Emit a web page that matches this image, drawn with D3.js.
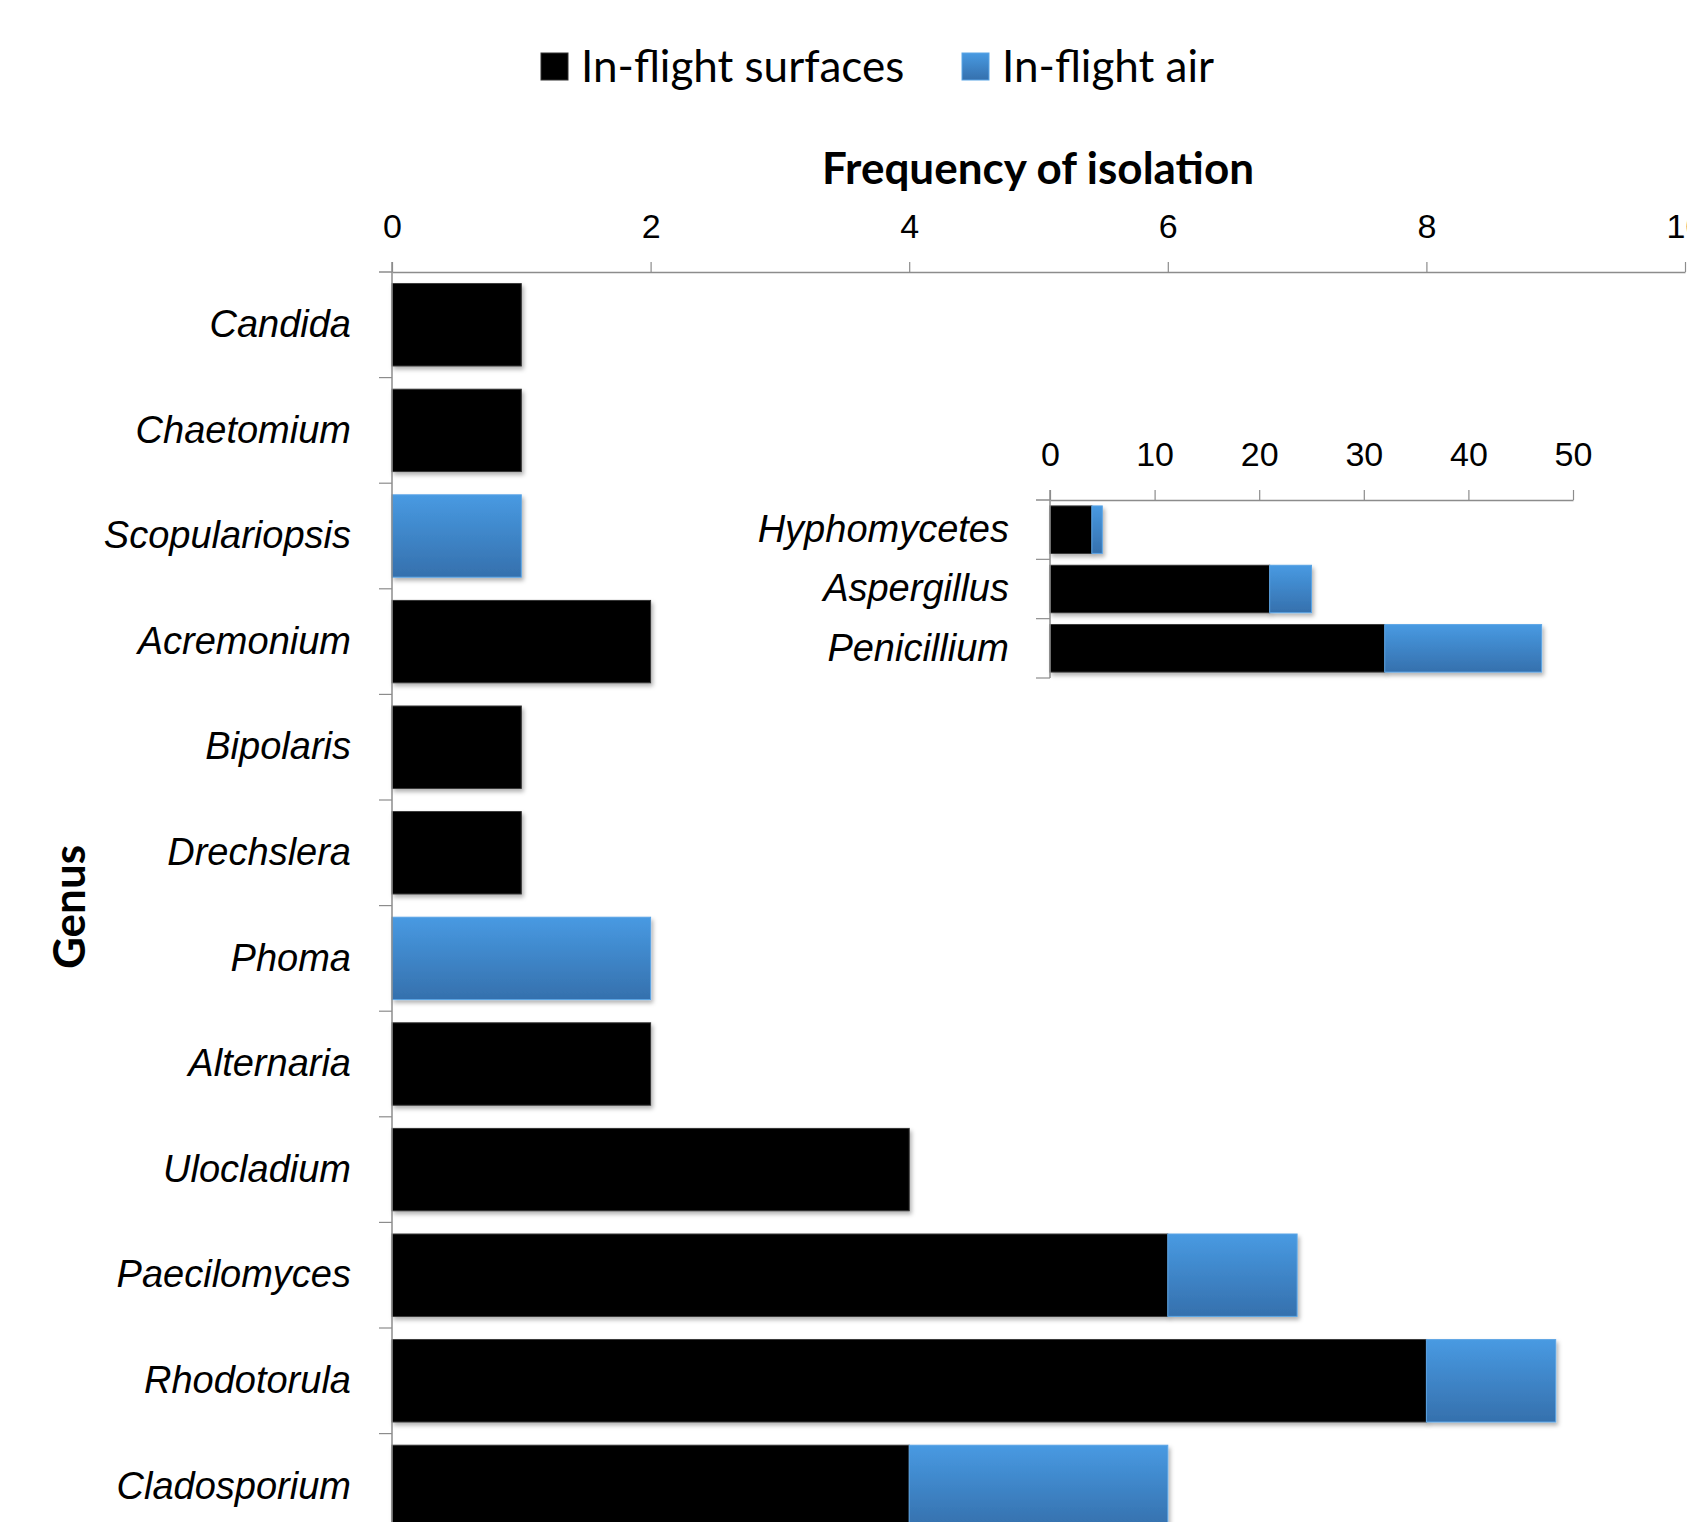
<!DOCTYPE html>
<html>
<head>
<meta charset="utf-8">
<script src="https://cdn.jsdelivr.net/npm/d3@7"></script>
<style>
  html, body { margin: 0; padding: 0; background: #fff; }
  svg { display: block; font-family: Lato, "Open Sans", sans-serif; }
</style>
</head>
<body>
<svg id="chart" width="1687" height="1522"></svg>
<script>
// Genera isolated, top to bottom
const genera = ["Candida", "Chaetomium", "Scopulariopsis", "Acremonium", "Bipolaris",
  "Drechslera", "Phoma", "Alternaria", "Ulocladium", "Paecilomyces", "Rhodotorula", "Cladosporium"];
const surfaceCounts = [1, 1, 0, 2, 1, 1, 0, 2, 4, 6, 8, 4];
const airCounts     = [0, 0, 1, 0, 0, 0, 2, 0, 0, 1, 1, 2];
const mainTicks = [0, 2, 4, 6, 8, 10];

// Most frequent genera, drawn on their own smaller scale
const majorGenera = ["Hyphomycetes", "Aspergillus", "Penicillium"];
const majorSurface = [4, 21, 32];
const majorAir     = [1, 4, 15];
const insetTicks = [0, 10, 20, 30, 40, 50];

const seriesKeys = ["surfaces", "air"];
const seriesNames = ["In-flight surfaces", "In-flight air"];

const svg = d3.select("#chart");
const axisColor = "#8c8c8c";

// Defs: blue gradient and soft bar shadow
const defs = svg.append("defs");
const grad = defs.append("linearGradient").attr("id", "blueGrad")
  .attr("x1", 0).attr("y1", 0).attr("x2", 0).attr("y2", 1);
grad.append("stop").attr("offset", "0%").attr("stop-color", "#489ae2");
grad.append("stop").attr("offset", "100%").attr("stop-color", "#3570ad");
const shadow = defs.append("filter").attr("id", "barShadow")
  .attr("x", "-5%").attr("y", "-10%").attr("width", "115%").attr("height", "140%");
shadow.append("feDropShadow").attr("dx", 2).attr("dy", 3).attr("stdDeviation", 2)
  .attr("flood-color", "#000").attr("flood-opacity", 0.3);

const fills = { surfaces: "#000000", air: "url(#blueGrad)" };
const strokes = { surfaces: "#333333", air: "#5aa5e6" };

function stackRows(names, a, b) {
  const rows = names.map((n, i) => ({ name: n, surfaces: a[i], air: b[i] }));
  return d3.stack().keys(seriesKeys)(rows);
}

function drawBars(g, stacked, x, y) {
  g.selectAll("g.series").data(stacked).join("g")
    .attr("class", "series")
    .attr("fill", d => fills[d.key])
    .attr("stroke", d => strokes[d.key])
    .attr("stroke-width", 1)
    .attr("filter", "url(#barShadow)")
    .selectAll("rect")
    .data(d => d.filter(s => s[1] - s[0] > 0))
    .join("rect")
    .attr("x", d => x(d[0]))
    .attr("width", d => x(d[1]) - x(d[0]))
    .attr("y", d => y(d.data.name))
    .attr("height", y.bandwidth());
}

function styleAxis(g) {
  g.selectAll("path.domain").attr("stroke", axisColor).attr("stroke-width", 1.5);
  g.selectAll(".tick line").attr("stroke", axisColor).attr("stroke-width", 1.2);
  g.selectAll(".tick text").attr("fill", "#000");
}

// ---------- main chart ----------
const x = d3.scaleLinear().domain([0, 10]).range([392, 1685]);
const step = 105.6;
const y = d3.scaleBand().domain(genera)
  .range([272, 272 + genera.length * step])
  .paddingInner(0.22).paddingOuter(0.11);

drawBars(svg.append("g"), stackRows(genera, surfaceCounts, airCounts), x, y);

const xAxisG = svg.append("g").attr("transform", "translate(0,272)")
  .call(d3.axisTop(x).tickValues(mainTicks).tickSize(10).tickSizeOuter(0).tickPadding(24));
styleAxis(xAxisG);
xAxisG.selectAll(".tick text").attr("font-size", 34);
xAxisG.append("line").attr("x1", 379).attr("x2", 392).attr("stroke", axisColor).attr("stroke-width", 1.5);

// vertical axis with category separators
const yAxisG = svg.append("g").attr("transform", "translate(392,0)")
  .call(d3.axisLeft(y).tickSize(0).tickPadding(41));
yAxisG.select("path.domain").remove();
yAxisG.selectAll(".tick text").attr("font-size", 38).attr("font-style", "italic").attr("fill", "#000");
yAxisG.append("line").attr("y1", 262).attr("y2", 1522).attr("stroke", axisColor).attr("stroke-width", 1.5);
yAxisG.selectAll("line.sep").data(d3.range(1, genera.length + 1)).join("line")
  .attr("class", "sep")
  .attr("x1", -13).attr("x2", 0)
  .attr("y1", i => y.range()[0] + i * y.step()).attr("y2", i => y.range()[0] + i * y.step())
  .attr("stroke", axisColor).attr("stroke-width", 1.2);

// axis titles
svg.append("text").attr("x", 1038).attr("y", 184).attr("text-anchor", "middle")
  .attr("font-weight", "bold").attr("font-size", 44).text("Frequency of isolation");
svg.append("text").attr("transform", "translate(85,907) rotate(-90)").attr("text-anchor", "middle")
  .attr("font-weight", "bold").attr("font-size", 44).text("Genus");

// ---------- legend ----------
const legendX = [541, 962];
const legend = svg.append("g").selectAll("g").data(seriesKeys).join("g")
  .attr("transform", (d, i) => `translate(${legendX[i]},53)`);
legend.append("rect").attr("width", 27).attr("height", 27)
  .attr("fill", d => fills[d]).attr("stroke", d => strokes[d]).attr("stroke-width", 1);
legend.append("text").attr("x", 40).attr("y", 29).attr("font-size", 44)
  .text((d, i) => seriesNames[i]);

// ---------- inset: most frequent genera ----------
const xi = d3.scaleLinear().domain([0, 50]).range([1050, 1573]);
const yi = d3.scaleBand().domain(majorGenera).range([500, 678])
  .paddingInner(0.2).paddingOuter(0.1);

drawBars(svg.append("g"), stackRows(majorGenera, majorSurface, majorAir), xi, yi);

const xiAxisG = svg.append("g").attr("transform", "translate(0,500)")
  .call(d3.axisTop(xi).tickValues(insetTicks).tickSize(10).tickSizeOuter(0).tickPadding(24));
styleAxis(xiAxisG);
xiAxisG.selectAll(".tick text").attr("font-size", 34);
xiAxisG.append("line").attr("x1", 1036).attr("x2", 1050).attr("stroke", axisColor).attr("stroke-width", 1.5);

const yiAxisG = svg.append("g").attr("transform", "translate(1050,0)")
  .call(d3.axisLeft(yi).tickSize(0).tickPadding(41));
yiAxisG.select("path.domain").remove();
yiAxisG.selectAll(".tick text").attr("font-size", 38).attr("font-style", "italic").attr("fill", "#000");
yiAxisG.append("line").attr("y1", 490).attr("y2", 678).attr("stroke", axisColor).attr("stroke-width", 1.5);
yiAxisG.selectAll("line.sep").data(d3.range(1, majorGenera.length + 1)).join("line")
  .attr("class", "sep")
  .attr("x1", -14).attr("x2", 0)
  .attr("y1", i => yi.range()[0] + i * yi.step()).attr("y2", i => yi.range()[0] + i * yi.step())
  .attr("stroke", axisColor).attr("stroke-width", 1.2);
</script>
</body>
</html>
